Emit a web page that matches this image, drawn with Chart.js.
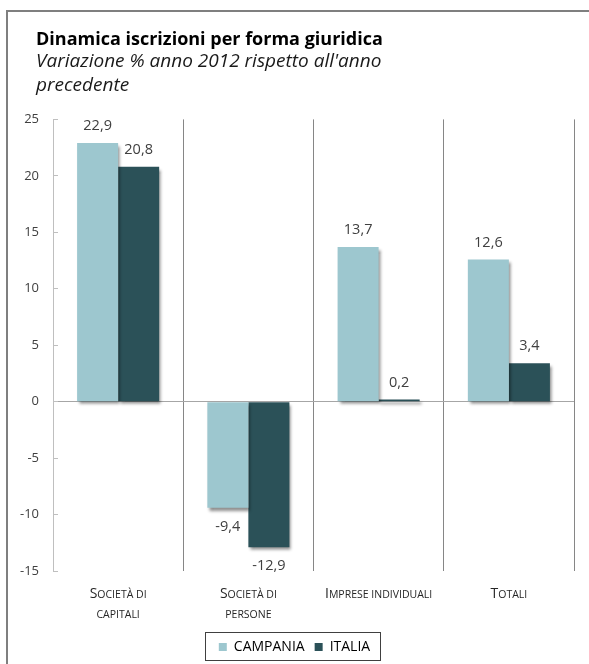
<!DOCTYPE html>
<html>
<head>
<meta charset="utf-8">
<script src="https://cdn.jsdelivr.net/npm/chart.js@4.4.1/dist/chart.umd.min.js"></script>
<style>
    html, body { margin: 0; padding: 0; background: #fff; }
    #wrap { position: relative; width: 589px; height: 664px; overflow: hidden; }
    #frame { position: absolute; left: 6px; top: 10px; right: -10px; bottom: -10px;
             border-left: 2px solid #7f7f7f; border-top: 2px solid #7f7f7f; }
    canvas { position: absolute; left: 0; top: 0; }
</style>
</head>
<body>
<div id="wrap">
    <div id="frame"></div>
    <canvas id="chart" width="589" height="664"></canvas>
</div>
<script>
const FONT = "'Open Sans', Lato, sans-serif";

const titleText = "Dinamica iscrizioni per forma giuridica";
const subtitleText = ["Variazione % anno 2012 rispetto all'anno", "precedente"];

const categories = [
    ["Società di", "capitali"],
    ["Società di", "persone"],
    ["Imprese individuali"],
    ["Totali"]
];
const seriesNames = ["CAMPANIA", "ITALIA"];
const campania = [22.9, -9.4, 13.7, 12.6];
const italia = [20.8, -12.9, 0.2, 3.4];

const colors = {
    CAMPANIA: "#9dc7cf",
    ITALIA: "#2b5158"
};

/* shadow under the bars */
const barShadow = {
    id: "barShadow",
    beforeDatasetsDraw(chart) {
        const c = chart.ctx;
        c.save();
        c.shadowColor = "rgba(0,0,0,0.45)";
        c.shadowBlur = 3;
        c.shadowOffsetX = 2;
        c.shadowOffsetY = 3;
    },
    afterDatasetsDraw(chart) {
        chart.ctx.restore();
    }
};

/* small caps text, drawn char by char */
function drawSmallCaps(ctx, text, cx, baseline, big, small) {
    const parts = [...text].map(ch => {
        const up = ch.toUpperCase();
        const isCap = ch === up && ch !== ch.toLowerCase();
        return { ch: up, size: isCap ? big : small };
    });
    let w = 0;
    parts.forEach(p => {
        ctx.font = p.size + "px " + FONT;
        p.w = ctx.measureText(p.ch).width;
        w += p.w;
    });
    let x = cx - w / 2;
    ctx.textAlign = "left";
    ctx.textBaseline = "alphabetic";
    parts.forEach(p => {
        ctx.font = p.size + "px " + FONT;
        ctx.fillText(p.ch, x, baseline);
        x += p.w;
    });
}

/* value labels, category labels, legend frame */
const extras = {
    id: "extras",
    afterLayout(chart) {
        // titles start at the frame's text margin, legend centred on the page
        chart.boxes.forEach(b => {
            if (b !== chart.legend && b.options && b.options.text !== undefined && b.position === "top") {
                b.left = 36;
            }
        });
        chart.legend.left = 0;
        chart.legend.right = chart.width;
    },
    afterDraw(chart) {
        const ctx = chart.ctx;
        ctx.save();

        ctx.fillStyle = "#404040";
        ctx.font = "14.5px " + FONT;
        ctx.textAlign = "center";
        ctx.textBaseline = "middle";
        chart.data.datasets.forEach((ds, di) => {
            chart.getDatasetMeta(di).data.forEach((bar, i) => {
                const v = ds.data[i];
                const y = v >= 0 ? bar.y - 17 : bar.y + 19;
                ctx.fillText(v.toFixed(1).replace(".", ","), bar.x, y);
            });
        });

        const xs = chart.scales.x;
        ctx.fillStyle = "#262626";
        categories.forEach((lines, i) => {
            const x = xs.getPixelForTick(i);
            lines.forEach((line, li) => {
                drawSmallCaps(ctx, line, x, xs.top + 27 + li * 20, 14, 10.5);
            });
        });

        const hb = chart.legend.legendHitBoxes;
        if (hb && hb.length) {
            const left = Math.min(...hb.map(h => h.left)) - 14;
            const right = Math.max(...hb.map(h => h.left + h.width)) + 10;
            const mid = hb[0].top + hb[0].height / 2;
            ctx.strokeStyle = "#404040";
            ctx.lineWidth = 1;
            ctx.strokeRect(Math.round(left) + 0.5, Math.round(mid - 15) + 0.5,
                Math.round(right - left), 28);
        }
        ctx.restore();
    }
};

new Chart(document.getElementById("chart"), {
    type: "bar",
    data: {
        labels: categories,
        datasets: [
            { label: seriesNames[0], data: campania, backgroundColor: colors.CAMPANIA },
            { label: seriesNames[1], data: italia, backgroundColor: colors.ITALIA }
        ]
    },
    options: {
        responsive: false,
        animation: false,
        categoryPercentage: 0.63,
        barPercentage: 1,
        layout: { padding: { left: 0, right: 15, top: 31, bottom: 0 } },
        plugins: {
            title: {
                display: true,
                text: titleText,
                align: "start",
                color: "#000",
                font: { family: FONT, size: 18, weight: "bold", lineHeight: 1.0 },
                padding: { top: 0, bottom: 0 }
            },
            subtitle: {
                display: true,
                text: subtitleText,
                align: "start",
                color: "#1a1a1a",
                font: { family: FONT, size: 19, style: "italic", lineHeight: 1.3 },
                padding: { top: 0, bottom: 21 }
            },
            legend: {
                position: "bottom",
                labels: {
                    boxWidth: 8,
                    boxHeight: 8,
                    padding: 10,
                    color: "#000",
                    font: { family: FONT, size: 14 }
                }
            },
            tooltip: { enabled: false }
        },
        scales: {
            x: {
                grid: {
                    offset: true,
                    drawTicks: false,
                    color: c => c.index === 0 ? "rgba(0,0,0,0)" : "#868686"
                },
                border: { display: false },
                ticks: { display: false },
                afterFit(s) { s.height = 59; }
            },
            y: {
                min: -15,
                max: 25,
                ticks: {
                    stepSize: 5,
                    color: "#404040",
                    padding: 19,
                    font: { family: FONT, size: 13 }
                },
                grid: {
                    tickLength: -5,
                    tickColor: "#bfbfbf",
                    color: c => c.tick && c.tick.value === 0 ? "#a6a6a6" : "rgba(0,0,0,0)"
                },
                border: { color: "#bfbfbf" },
                afterFit(s) { s.width = 53; }
            }
        }
    },
    plugins: [barShadow, extras]
});
</script>
</body>
</html>
